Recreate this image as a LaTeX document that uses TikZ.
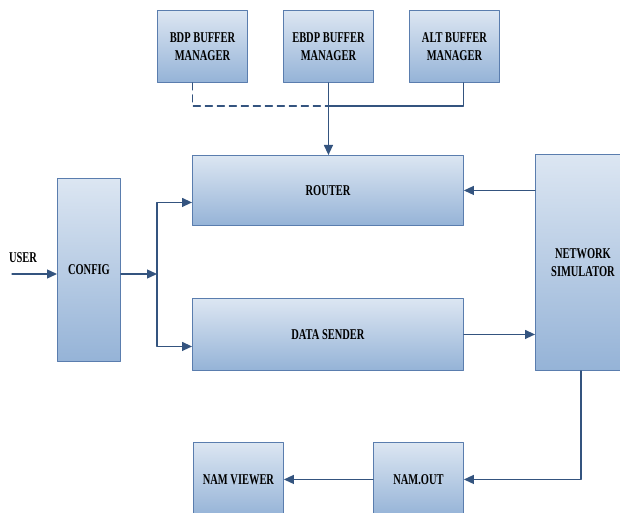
\documentclass[tikz,border=0pt]{standalone}
\usepackage{fontspec}
\setmainfont{Liberation Serif}[FakeStretch=0.7]
\usetikzlibrary{arrows.meta}
\definecolor{linec}{HTML}{34547F}
\definecolor{edgec}{HTML}{5A7DAE}
\definecolor{topc}{HTML}{DCE6F2}
\definecolor{botc}{HTML}{95B3D7}
\begin{document}
\begin{tikzpicture}[x=1bp,y=-1bp,line cap=round,line join=round,
  font=\fontsize{15}{18}\selectfont\bfseries,
  box/.style={draw=edgec,line width=0.9bp,top color=topc,bottom color=botc,
    anchor=north west,inner sep=0pt,align=center},
  wire/.style={draw=linec,line width=1.3bp},
  arr/.style={wire,-{Triangle[length=10bp,width=9bp]}}]
\useasboundingbox (0,0) rectangle (620,513);
\node[box,minimum width=90bp,minimum height=72bp] (bdp) at (157,10) {BDP BUFFER\\MANAGER};
\node[box,minimum width=90bp,minimum height=72bp] (ebdp) at (283,10) {EBDP BUFFER\\MANAGER};
\node[box,minimum width=90bp,minimum height=72bp] (alt) at (409,10) {ALT BUFFER\\MANAGER};
\node[box,minimum width=271bp,minimum height=70bp] (router) at (192,155) {ROUTER};
\node[box,minimum width=271bp,minimum height=72bp] (sender) at (192,298) {DATA SENDER};
\node[box,minimum width=63bp,minimum height=183bp] (config) at (57,178) {CONFIG};
\node[box,minimum width=95bp,minimum height=216bp] (netsim) at (535,154) {NETWORK\\SIMULATOR};
\node[box,minimum width=90bp,minimum height=74bp] (namout) at (373,442) {NAM.OUT};
\node[box,minimum width=90bp,minimum height=74bp] (namview) at (193,442) {NAM VIEWER};
\node (userlbl) at (23,258) {USER};
\coordinate (user) at (12,274);
\coordinate (split) at (157,274);
\coordinate (busmid) at (328,106);
% buffer managers
\draw[wire,dashed,dash pattern=on 7bp off 5bp] ([xshift=-10bp]bdp.south) |- (busmid);
\draw[wire] ([xshift=9bp]alt.south) |- (busmid);
\draw[arr] (ebdp.south) -- (ebdp.south |- router.north);
% config
\draw[arr] (user) -- (user -| config.west);
\draw[arr] (config.east |- split) -- (split);
\draw[arr] (split) |- ([yshift=-12bp]router.west);
\draw[arr] (split) |- ([yshift=-12bp]sender.west);
% simulator
\draw[arr] (netsim.west |- router.east) -- (router.east);
\draw[arr] (sender.east) -- (sender.east -| netsim.west);
\draw[arr] ([xshift=-2bp]netsim.south) |- (namout.east);
\draw[arr] (namout) -- (namview);
\end{tikzpicture}
\end{document}
